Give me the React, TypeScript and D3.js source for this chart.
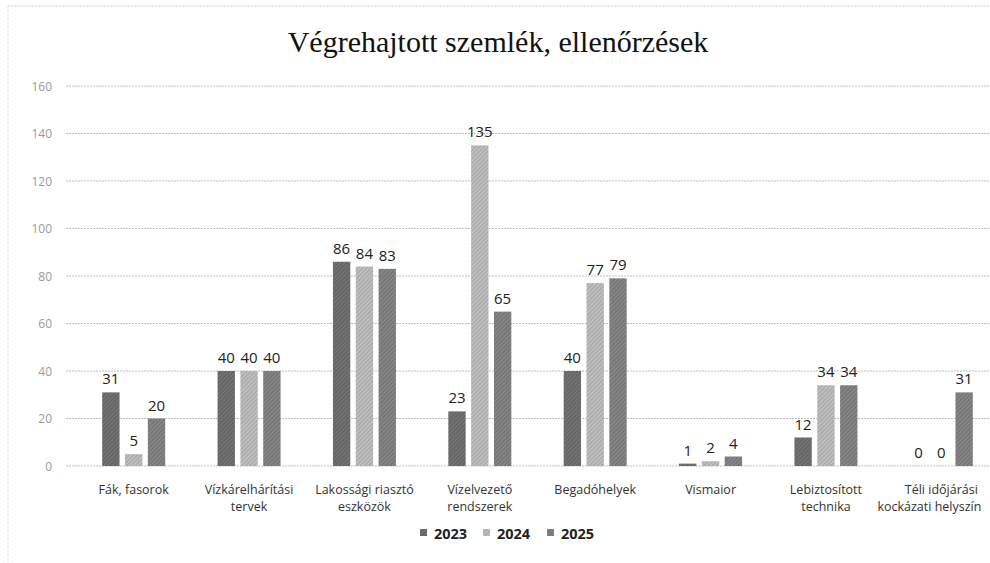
import React from "react";
import * as d3 from "d3";

const categories: string[][] = [
  ["Fák, fasorok"],
  ["Vízkárelhárítási", "tervek"],
  ["Lakossági riasztó", "eszközök"],
  ["Vízelvezető", "rendszerek"],
  ["Begadóhelyek"],
  ["Vismaior"],
  ["Lebiztosított", "technika"],
  ["Téli időjárási", "kockázati helyszín"],
];
const seriesNames = ["2023", "2024", "2025"];
const values2023 = [31, 40, 86, 23, 40, 1, 12, 0];
const values2024 = [5, 40, 84, 135, 77, 2, 34, 0];
const values2025 = [20, 40, 83, 65, 79, 4, 34, 31];
const yTicks = [0, 20, 40, 60, 80, 100, 120, 140, 160];
const title = "Végrehajtott szemlék, ellenőrzések";

const W = 990;
const H = 563;

export default function App() {
  const series = [values2023, values2024, values2025];
  const x = d3
    .scaleBand<number>()
    .domain(d3.range(categories.length))
    .range([76, 999])
    .paddingInner(0)
    .paddingOuter(0);
  const inner = d3
    .scaleBand<number>()
    .domain([0, 1, 2])
    .range([-31.5, 31.5])
    .paddingInner(0.24)
    .paddingOuter(0);
  const y = d3.scaleLinear().domain([0, 160]).range([466, 86]);
  const fills = ["url(#p0)", "url(#p1)", "url(#p2)"];
  const baseColors = ["#666666", "#adadad", "#777777"];
  const sans = "'Open Sans', 'Noto Sans', sans-serif";
  const charW = 6.4;

  return (
    <svg
      width={W}
      height={H}
      style={{ position: "absolute", left: 0, top: 0, background: "#fff" }}
    >
      <defs>
        {baseColors.map((c, i) => (
          <pattern
            key={i}
            id={`p${i}`}
            width={3}
            height={3}
            patternUnits="userSpaceOnUse"
            patternTransform="rotate(45)"
          >
            <rect width={3} height={3} fill={c} />
            <rect
              width={1}
              height={3}
              fill={i === 1 ? "#c6c6c6" : d3.color(c)!.brighter(0.45).toString()}
            />
          </pattern>
        ))}
      </defs>
      <rect x={0} y={0} width={W} height={H} fill="#fff" />
      <line x1={8} y1={6} x2={990} y2={6} stroke="#cfcfcf" strokeDasharray="2,1" />
      <line x1={8} y1={6} x2={8} y2={563} stroke="#dddddd" strokeDasharray="2,2" />

      <text
        x={498}
        y={52}
        textAnchor="middle"
        fontFamily="'Liberation Serif', 'DejaVu Serif', serif"
        fontSize={30}
        fill="#111"
      >
        {title}
      </text>

      {yTicks.map((t) => (
        <g key={t}>
          <line
            x1={66}
            x2={990}
            y1={y(t)}
            y2={y(t)}
            stroke="#bdbdbd"
            strokeDasharray="2,1"
          />
          <text
            x={52}
            y={y(t) + 4.5}
            textAnchor="end"
            fontFamily={sans}
            fontSize={12}
            fill="#9a9a9a"
          >
            {t}
          </text>
        </g>
      ))}

      {categories.map((cat, ci) => {
        const cx = x(ci)! + x.bandwidth() / 2;
        return (
          <g key={ci}>
            {series.map((vals, si) => {
              const bx = cx + inner(si)!;
              const v = vals[ci];
              return (
                <g key={si}>
                  {v > 0 && (
                    <rect
                      x={bx}
                      y={y(v)}
                      width={inner.bandwidth()}
                      height={y(0) - y(v)}
                      fill={fills[si]}
                    />
                  )}
                  <text
                    x={bx + inner.bandwidth() / 2}
                    y={y(v) - 8}
                    textAnchor="middle"
                    fontFamily={sans}
                    fontSize={15}
                    fill="#222"
                  >
                    {v}
                  </text>
                </g>
              );
            })}
            {cat.map((line, li) => {
              const half = (line.length * charW) / 2;
              const lx = Math.min(cx, W - 3 - half);
              return (
                <text
                  key={li}
                  x={lx}
                  y={494 + li * 17}
                  textAnchor="middle"
                  fontFamily={sans}
                  fontSize={12.5}
                  fill="#333"
                >
                  {line}
                </text>
              );
            })}
          </g>
        );
      })}

      {seriesNames.map((s, i) => {
        const lx = [420, 483, 547][i];
        return (
          <g key={s}>
            <rect x={lx} y={529} width={7} height={7} fill={fills[i]} />
            <text
              x={lx + 14}
              y={539}
              fontFamily={sans}
              fontWeight="bold"
              fontSize={14.5}
              fill="#222"
            >
              {s}
            </text>
          </g>
        );
      })}
    </svg>
  );
}
